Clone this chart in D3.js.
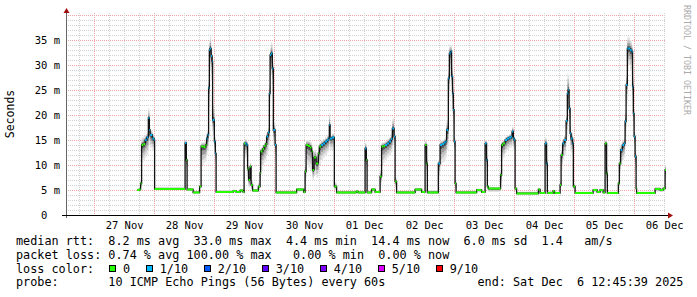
<!DOCTYPE html>
<html>
<head>
<meta charset="utf-8">
<script src="https://cdn.jsdelivr.net/npm/d3@7"></script>
<style>
  body { margin: 0; background: #fff; }
  svg text { font-family: "DejaVu Sans Mono", monospace; white-space: pre; }
</style>
</head>
<body>
<svg id="chart" width="697" height="297"></svg>
<script>
// graph window: 10 days ending at the "end:" stamp
const startTime = new Date(2025, 10, 26, 12, 45, 39);
const endTime = new Date(2025, 11, 6, 12, 45, 39);
const dayZero = new Date(2025, 10, 27);

// samples, hours since 27 Nov 00:00
const hours = [17.2, 18.0, 18.6, 19.0, 19.7, 20.4, 21.0, 21.7, 22.1, 22.4, 23.3, 24.0, 24.2,
  36.4, 36.9, 37.2, 39.6, 42.2, 42.8, 43.8, 44.6, 45.0, 45.4, 45.8, 46.1, 46.4, 46.8, 47.2, 47.4, 48.1, 48.5, 48.8,
  55.6, 56.8, 58.4, 59.6, 60.0, 60.4, 61.0, 61.4, 61.8, 62.4, 62.8, 63.4, 65.7, 66.4, 66.6, 67.4, 68.0, 68.6,
  69.0, 69.6, 70.1, 70.4, 70.8, 71.3, 71.7, 72.4, 72.8, 81.0, 83.8,
  84.4, 84.8, 85.6, 86.4, 87.0, 87.4, 88.0, 88.8, 89.7, 90.1, 90.8, 91.6, 92.4, 93.2, 93.8, 94.1, 94.4, 95.2, 96.1, 97.0,
  104.8, 105.6, 108.4, 108.9, 109.2, 111.0, 112.4,
  114.4, 115.0, 115.8, 116.4, 117.2, 118.0, 118.8, 119.3, 120.0, 120.4, 121.0, 128.4, 131.0, 132.4, 133.0, 133.3,
  137.7, 138.4, 139.2, 140.0, 140.6, 141.0, 141.7, 142.1, 142.6, 143.0, 143.4, 143.7, 144.0, 144.4, 144.8,
  153.0, 155.0, 156.4, 157.0, 157.3, 157.7,
  162.6, 163.0, 163.6, 164.4, 165.2, 166.0, 166.8, 167.2, 167.7, 168.1, 168.4, 169.0, 177.7, 178.4, 180.4, 181.0, 181.3,
  183.6, 184.2, 186.4, 186.8, 187.4, 188.0, 188.8, 189.3, 189.7, 190.0, 190.4, 190.8, 191.4, 191.7, 192.4,
  199.6, 201.2, 202.4, 203.6, 204.4, 205.0, 205.3,
  209.7, 210.1, 210.6, 211.3, 212.0, 212.4, 212.8, 213.3, 213.8, 214.4, 215.0, 215.4, 215.7, 216.0, 216.4, 216.8, 217.0,
  224.4, 226.4, 227.6, 228.4];

// median rtt in ms
const median = [5.0, 5.1, 6.3, 14.0, 14.2, 15.0, 15.5, 19.4, 17.0, 16.0, 15.3, 15.0, 5.2,
  14.4, 11.0, 5.1, 4.5, 5.7, 13.7, 13.6, 14.0, 15.3, 16.0, 25.4, 33.0, 33.3, 31.8, 30.7, 19.0, 14.7, 12.3, 4.6,
  4.8, 4.6, 4.9, 4.6, 14.3, 14.3, 14.0, 9.3, 7.0, 9.7, 6.0, 4.9, 5.7, 8.4, 12.7, 13.2, 13.8, 14.2,
  15.7, 16.5, 24.3, 32.0, 32.3, 29.3, 17.0, 14.0, 4.5, 5.1, 4.6,
  8.7, 14.0, 13.8, 13.5, 12.7, 9.0, 11.5, 10.3, 12.3, 13.7, 14.0, 14.3, 14.7, 15.0, 15.3, 18.0, 15.3, 15.5, 5.7, 4.5,
  4.7, 4.5, 13.3, 11.0, 4.5, 5.1, 4.6,
  7.7, 13.7, 13.8, 14.0, 14.3, 14.7, 15.2, 17.3, 15.7, 6.7, 4.5, 5.1, 4.6, 14.0, 10.3, 4.5,
  10.3, 14.0, 14.2, 14.5, 14.7, 17.0, 27.3, 32.3, 32.7, 27.7, 24.3, 21.0, 14.7, 6.3, 4.5,
  5.0, 4.6, 14.3, 11.0, 5.7, 5.3,
  8.0, 14.0, 14.3, 15.0, 15.3, 15.5, 15.7, 16.7, 15.3, 15.0, 5.3, 4.3, 5.1, 4.4, 14.3, 10.3, 4.4,
  4.8, 4.4, 6.0, 12.0, 14.3, 15.0, 18.8, 24.3, 25.0, 21.3, 16.3, 15.3, 14.3, 5.7, 4.4,
  5.0, 4.6, 5.0, 4.5, 14.3, 8.3, 4.4,
  6.3, 10.3, 13.0, 14.0, 14.3, 18.7, 26.0, 33.3, 33.3, 33.0, 32.7, 25.7, 20.3, 15.7, 11.7, 5.3, 4.4,
  5.2, 5.0, 5.3, 9.0];

// packet loss per sample (index into lossColors)
const loss = [0, 0, 0, 0, 0, 1, 1, 1, 1, 1, 1, 1, 0,
  1, 0, 0, 0, 0, 0, 0, 0, 1, 1, 1, 1, 1, 1, 1, 1, 1, 1, 0,
  0, 0, 0, 0, 0, 1, 1, 0, 0, 0, 0, 0, 0, 0, 0, 0, 0, 0,
  1, 1, 1, 1, 1, 1, 1, 1, 0, 0, 0,
  0, 0, 0, 0, 0, 0, 0, 0, 0, 0, 1, 1, 1, 1, 1, 1, 1, 1, 0, 0,
  0, 0, 1, 0, 0, 0, 0,
  0, 0, 0, 1, 1, 1, 1, 1, 1, 0, 0, 0, 0, 0, 0, 0,
  1, 1, 1, 1, 1, 1, 1, 1, 1, 1, 1, 1, 1, 0, 0,
  0, 0, 1, 1, 0, 0,
  0, 0, 0, 1, 1, 1, 1, 1, 1, 1, 0, 0, 0, 0, 1, 1, 0,
  0, 0, 0, 0, 1, 1, 1, 1, 1, 1, 1, 1, 1, 0, 0,
  0, 0, 0, 0, 0, 0, 0,
  0, 0, 1, 1, 1, 1, 1, 1, 1, 1, 1, 1, 1, 1, 1, 0, 0,
  0, 0, 0, 0];

// smoke: fastest and slowest ping per sample, ms
const smokeLo = [4.9, 4.9, 5.5, 10.5, 11.0, 11.5, 12.0, 14.0, 14.0, 13.5, 13.0, 12.5, 5.0,
  11.0, 9.0, 4.9, 4.4, 5.3, 10.0, 10.5, 11.0, 12.0, 13.0, 20.0, 28.0, 29.0, 27.0, 25.0, 16.0, 12.0, 10.5, 4.4,
  4.5, 4.4, 4.5, 4.4, 11.0, 11.5, 11.0, 7.0, 5.5, 6.0, 5.0, 4.6, 5.2, 6.5, 9.0, 10.0, 10.5, 11.0,
  12.0, 13.0, 20.0, 27.0, 28.0, 25.0, 14.0, 11.0, 4.3, 4.7, 4.4,
  6.0, 10.0, 9.5, 9.0, 8.5, 7.0, 8.0, 7.5, 9.0, 10.0, 11.0, 11.5, 12.0, 12.5, 13.0, 15.0, 13.0, 13.0, 5.0, 4.3,
  4.4, 4.3, 10.0, 9.0, 4.3, 4.7, 4.4,
  6.0, 10.0, 10.5, 11.0, 11.5, 12.0, 12.5, 14.0, 13.0, 5.5, 4.3, 4.7, 4.4, 10.5, 8.0, 4.3,
  7.0, 10.0, 10.5, 11.0, 11.5, 13.0, 22.0, 28.0, 29.0, 24.0, 20.0, 17.0, 12.0, 5.0, 4.3,
  4.6, 4.4, 11.0, 9.0, 5.0, 4.6,
  6.0, 11.0, 11.5, 12.5, 13.0, 13.5, 13.5, 14.0, 13.0, 12.5, 4.8, 4.2, 4.6, 4.2, 11.0, 8.0, 4.2,
  4.4, 4.2, 5.0, 9.0, 11.0, 12.0, 15.0, 20.0, 21.0, 17.0, 13.0, 12.5, 12.0, 5.0, 4.2,
  4.6, 4.4, 4.6, 4.3, 11.0, 6.5, 4.2,
  5.5, 8.0, 10.0, 11.0, 11.5, 15.0, 22.0, 29.0, 30.0, 29.0, 28.0, 22.0, 17.0, 13.0, 9.0, 4.8, 4.2,
  4.7, 4.6, 4.8, 7.0];
const smokeHi = [5.3, 5.4, 7.0, 15.5, 15.8, 16.0, 16.5, 21.4, 18.5, 17.0, 16.2, 15.8, 5.6,
  15.0, 12.0, 5.4, 4.8, 6.0, 14.5, 14.6, 15.0, 16.5, 17.0, 27.0, 35.0, 35.7, 33.5, 32.0, 22.0, 16.0, 13.5, 5.0,
  5.1, 4.9, 5.2, 4.9, 15.0, 15.2, 14.8, 10.0, 8.0, 10.5, 7.0, 5.2, 6.5, 9.5, 13.5, 14.0, 14.5, 15.0,
  16.5, 17.5, 26.0, 33.5, 34.5, 31.0, 19.0, 15.0, 4.8, 5.4, 4.9,
  10.0, 15.0, 15.0, 14.6, 13.5, 12.0, 13.0, 12.5, 13.5, 14.5, 15.0, 15.2, 15.5, 16.0, 16.3, 20.4, 16.0, 16.3, 6.5, 4.8,
  5.0, 4.8, 14.5, 12.0, 4.8, 5.4, 4.9,
  9.0, 14.5, 14.6, 14.8, 15.2, 15.6, 16.2, 19.3, 16.5, 7.5, 4.8, 5.4, 4.9, 14.8, 11.5, 5.0,
  11.0, 14.8, 15.0, 15.3, 15.6, 19.0, 29.0, 34.0, 34.0, 30.0, 26.0, 23.0, 16.0, 7.0, 4.8,
  5.3, 4.9, 15.0, 12.0, 6.0, 5.5,
  9.0, 14.8, 15.0, 15.6, 16.0, 16.2, 16.5, 17.7, 16.0, 15.7, 5.6, 4.7, 5.4, 4.7, 15.5, 11.5, 4.8,
  5.1, 4.7, 7.0, 13.0, 15.0, 16.0, 20.0, 28.3, 28.0, 23.0, 18.0, 16.5, 15.5, 6.5, 4.7,
  5.3, 4.9, 5.3, 4.8, 15.0, 9.5, 4.7,
  7.0, 11.0, 14.0, 15.0, 15.5, 21.0, 28.0, 35.7, 35.5, 35.0, 34.0, 28.0, 22.0, 17.0, 13.0, 5.6, 4.7,
  5.6, 5.4, 5.6, 10.0];

const yTicks = [0, 5, 10, 15, 20, 25, 30, 35];
const yLabels = ["0\u00a0\u00a0", "5 m", "10 m", "15 m", "20 m", "25 m", "30 m", "35 m"];
const dayLabels = ["27 Nov", "28 Nov", "29 Nov", "30 Nov", "01 Dec", "02 Dec", "03 Dec", "04 Dec", "05 Dec", "06 Dec"];

const lossLabels = ["0", "1/10", "2/10", "3/10", "4/10", "5/10", "9/10"];
const lossColors = ["#26ff00", "#00b8ff", "#0059ff", "#5e00ff", "#7e00ff", "#dd00ff", "#ff0000"];

const rttLine = "median rtt:  8.2 ms avg  33.0 ms max  4.4 ms min  14.4 ms now  6.0 ms sd  1.4   am/s";
const lossLine = "packet loss: 0.74 % avg 100.00 % max   0.00 % min  0.00 % now";
const probeLine = "probe:       10 ICMP Echo Pings (56 Bytes) every 60s";
const endLine = "end: Sat Dec  6 12:45:39 2025";

const svg = d3.select("#chart");
const plotLeft = 66, plotRight = 666, plotBottom = 215, plotTop = 15;
const charW = 7.1;

const x = d3.scaleTime().domain([startTime, endTime]).range([plotLeft, plotRight]);
const y = d3.scaleLinear().domain([0, 40]).range([plotBottom, plotTop]);
const px = v => Math.round(v) + 0.5;

// grid
const grid = svg.append("g").attr("shape-rendering", "crispEdges");
d3.range(1, 41).forEach(v => {
  grid.append("line")
    .attr("x1", plotLeft).attr("x2", plotRight)
    .attr("y1", px(y(v))).attr("y2", px(y(v)))
    .attr("stroke", v % 5 === 0 ? "#eda4a4" : "#d2d2d2")
    .attr("stroke-dasharray", "1,1");
});
d3.timeHour.every(6).range(startTime, endTime).forEach(t => {
  const major = t.getHours() === 0;
  grid.append("line")
    .attr("x1", px(x(t))).attr("x2", px(x(t)))
    .attr("y1", plotTop - 2).attr("y2", plotBottom)
    .attr("stroke", major ? "#eda4a4" : "#d2d2d2")
    .attr("stroke-dasharray", "1,1");
});

// series
const pts = hours.map((h, i) => ({
  t: new Date(+dayZero + h * 3600e3),
  v: median[i], l: loss[i], lo: smokeLo[i], hi: smokeHi[i]
}));
const stepPts = pts.concat([Object.assign({}, pts[pts.length - 1], { t: endTime })]);

svg.append("clipPath").attr("id", "clip")
  .append("rect").attr("x", plotLeft).attr("y", 0).attr("width", plotRight - plotLeft).attr("height", plotBottom);
const plot = svg.append("g").attr("clip-path", "url(#clip)");

// smoke drawn as nested bands, darker towards the median
const smokeShades = [[1, "#e4e4e4"], [0.72, "#c6c6c6"], [0.45, "#9a9a9a"], [0.2, "#555555"]];
smokeShades.forEach(([f, c]) => {
  const area = d3.area().curve(d3.curveStepAfter)
    .x(d => x(d.t))
    .y0(d => y(d.v - f * (d.v - d.lo)))
    .y1(d => y(d.v + f * (d.hi - d.v)));
  plot.append("path").attr("d", area(stepPts)).attr("fill", c);
});

const medianLine = d3.line().curve(d3.curveStepAfter).x(d => x(d.t)).y(d => y(d.v));
plot.append("path").attr("d", medianLine(stepPts))
  .attr("fill", "none").attr("stroke", "#111").attr("stroke-width", 1.3);

plot.selectAll("line.loss").data(pts).join("line")
  .attr("class", "loss")
  .attr("x1", d => x(d.t))
  .attr("x2", (d, i) => x(stepPts[i + 1].t))
  .attr("y1", d => y(d.v)).attr("y2", d => y(d.v))
  .attr("stroke", d => lossColors[d.l])
  .attr("stroke-width", 2);

// axes
const yAxis = svg.append("g").attr("transform", `translate(${plotLeft},0)`)
  .call(d3.axisLeft(y).tickValues(yTicks).tickSize(0).tickPadding(6)
    .tickFormat((d, i) => yLabels[i]));
yAxis.select(".domain").remove();
yAxis.selectAll("text").attr("font-size", "10.5px").attr("fill", "#000")
  .attr("font-family", "DejaVu Sans Mono");

const noons = dayLabels.map((_, i) => new Date(2025, 10, 27 + i, 12));
const xAxis = svg.append("g").attr("transform", `translate(0,${plotBottom})`)
  .call(d3.axisBottom(x).tickValues(noons).tickSize(0)
    .tickFormat((d, i) => dayLabels[i]));
xAxis.select(".domain").remove();
xAxis.selectAll("text").attr("font-size", "10.5px").attr("fill", "#000")
  .attr("font-family", "DejaVu Sans Mono").attr("y", 13.5).attr("dy", 0);

svg.append("line").attr("x1", plotLeft + 0.5).attr("x2", plotLeft + 0.5).attr("y1", plotBottom + 3).attr("y2", 11)
  .attr("stroke", "#666").attr("shape-rendering", "crispEdges");
svg.append("line").attr("x1", plotLeft - 4).attr("x2", plotRight + 3).attr("y1", plotBottom + 0.5).attr("y2", plotBottom + 0.5)
  .attr("stroke", "#000").attr("shape-rendering", "crispEdges");
svg.append("path").attr("d", `M${plotLeft - 2.5},13L${plotLeft + 3.5},13L${plotLeft + 0.5},8Z`).attr("fill", "#a01010");
svg.append("path").attr("d", `M${plotRight + 2},${plotBottom - 2.5}L${plotRight + 2},${plotBottom + 3.5}L${plotRight + 7},${plotBottom + 0.5}Z`).attr("fill", "#a01010");

// titles
svg.append("text").attr("transform", "translate(14,114) rotate(-90)")
  .attr("text-anchor", "middle").attr("font-size", "11.5px").text("Seconds");
svg.append("text").attr("transform", "translate(684,5) rotate(90)")
  .attr("font-size", "8.3px").attr("fill", "#aaa").text("RRDTOOL / TOBI OETIKER");

// legend
const legend = svg.append("g").attr("font-size", "11.8px").attr("fill", "#000");
legend.append("text").attr("x", 16).attr("y", 244.5).text(rttLine);
legend.append("text").attr("x", 16).attr("y", 258.5).text(lossLine);
legend.append("text").attr("x", 16).attr("y", 272.5).text("loss color:");
legend.append("text").attr("x", 16).attr("y", 286.3).text(probeLine);
legend.append("text").attr("x", 16 + 65 * charW).attr("y", 286.3).text(endLine);

let bx = 109;
lossLabels.forEach((lab, i) => {
  legend.append("rect").attr("x", bx + 0.5).attr("y", 265.5).attr("width", 6).attr("height", 6)
    .attr("fill", lossColors[i]).attr("stroke", "#000").attr("shape-rendering", "crispEdges");
  legend.append("text").attr("x", bx + 14).attr("y", 272.5).text(lab);
  bx += 14 + lab.length * charW + 15.6;
});
</script>
</body>
</html>
